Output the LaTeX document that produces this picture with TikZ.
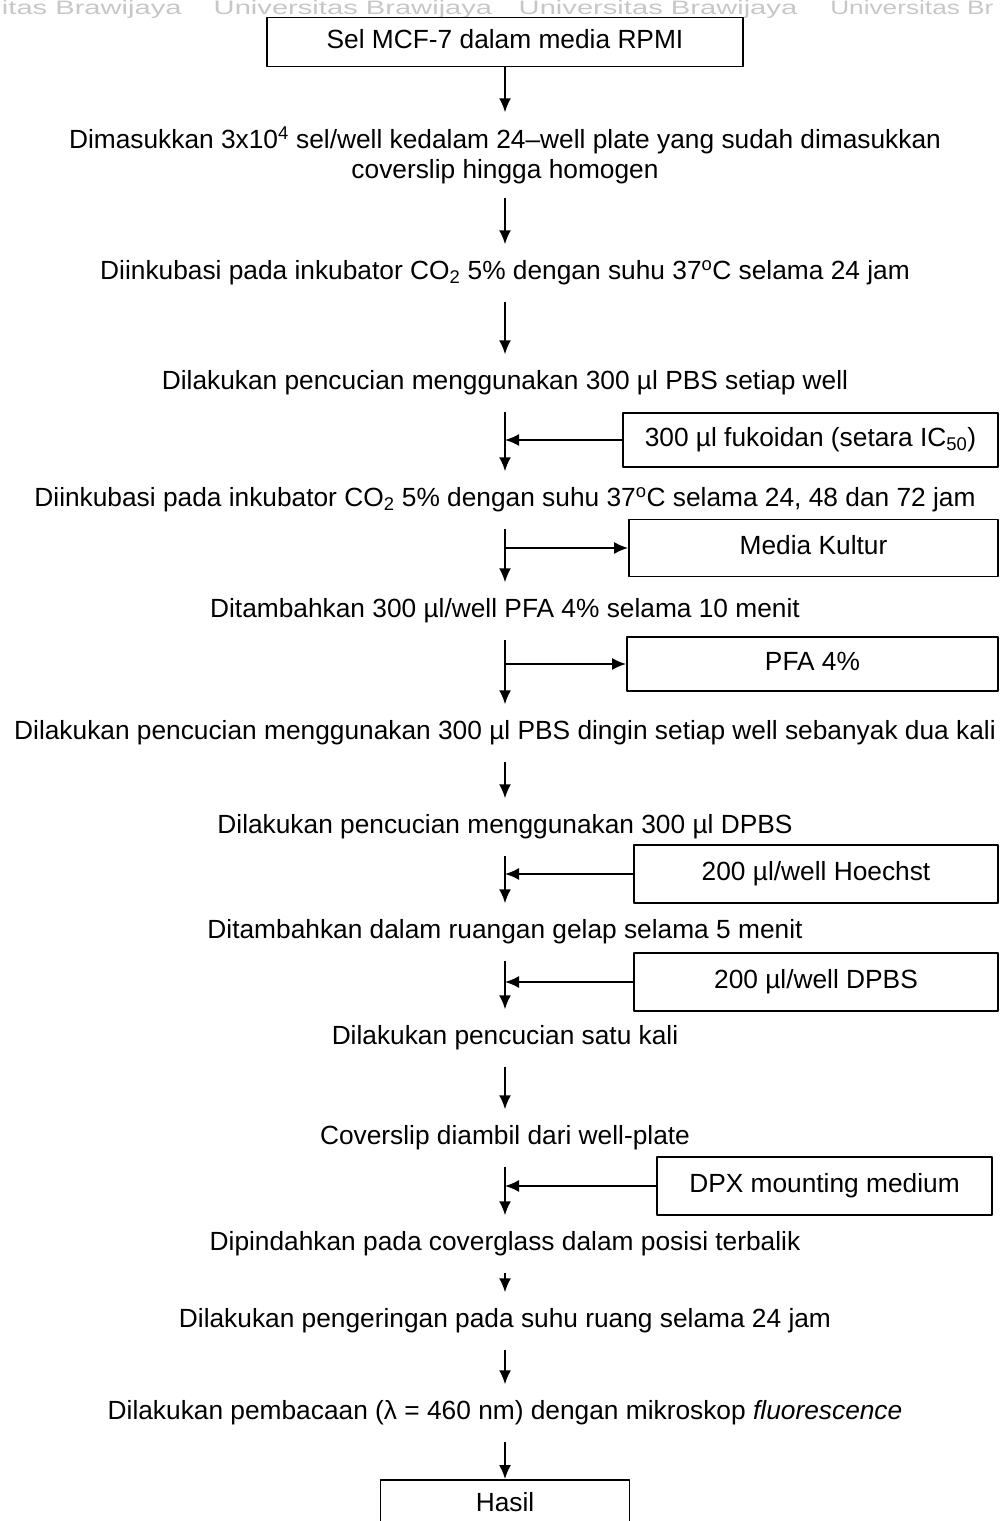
\documentclass[tikz,border=0pt]{standalone}
\usepackage{fontspec}
\setmainfont{Liberation Sans}
\usetikzlibrary{arrows.meta}
\tikzset{
  stage/.style={inner xsep=0bp,inner ysep=16bp,text height=19bp,text depth=6bp},
  stagebox/.style={draw,line width=1.8bp,inner sep=0bp,text height=19bp,text depth=6bp},
  wmark/.style={text=black!22,font=\fontsize{19.5}{22}\selectfont,inner sep=0bp,xscale=1.5,transform shape}
}
\begin{document}
\begin{tikzpicture}[>={Latex[length=14bp,width=12bp]},line join=bevel,every node/.style={font=\fontsize{26.4}{30}\selectfont}]
\useasboundingbox (0bp,0bp) rectangle (1001bp,1521bp);
%%
\node (mark_0) at (182bp,1506.5bp) [wmark,anchor=base east] {itas Brawijaya};
  \node (mark_1) at (353bp,1506.5bp) [wmark,anchor=base] {Universitas Brawijaya};
  \node (mark_2) at (658bp,1506.5bp) [wmark,anchor=base] {Universitas Brawijaya};
  \node (mark_3) at (830bp,1506.5bp) [wmark,xscale=0.9,anchor=base west] {Universitas Br};
%%
\node (step_0) at (505bp,1479bp) [stagebox,minimum width=476bp,minimum height=49bp] {Sel MCF-7 dalam media RPMI};
  \node (step_1) at (505bp,1366bp) [align=center,inner xsep=0bp,inner ysep=14bp] {Dimasukkan 3x10\textsuperscript{4} sel/well kedalam 24–well plate yang sudah dimasukkan\\coverslip hingga homogen};
  \node (step_2) at (505bp,1248bp) [stage] {Diinkubasi pada inkubator CO\textsubscript{2} 5\% dengan suhu 37\textsuperscript{o}C selama 24 jam};
  \node (step_3) at (505bp,1138bp) [stage] {Dilakukan pencucian menggunakan 300 µl PBS setiap well};
  \node (step_4) at (505bp,1021bp) [stage] {Diinkubasi pada inkubator CO\textsubscript{2} 5\% dengan suhu 37\textsuperscript{o}C selama 24, 48 dan 72 jam};
  \node (step_5) at (505bp,910bp) [stage] {Ditambahkan 300 µl/well PFA 4\% selama 10 menit};
  \node (step_6) at (505bp,788bp) [stage] {Dilakukan pencucian menggunakan 300 µl PBS dingin setiap well sebanyak dua kali};
  \node (step_7) at (505bp,694bp) [stage] {Dilakukan pencucian menggunakan 300 µl DPBS};
  \node (step_8) at (505bp,589bp) [stage] {Ditambahkan dalam ruangan gelap selama 5 menit};
  \node (step_9) at (505bp,483bp) [stage] {Dilakukan pencucian satu kali};
  \node (step_10) at (505bp,383bp) [stage] {Coverslip diambil dari well-plate};
  \node (step_11) at (505bp,277bp) [stage] {Dipindahkan pada coverglass dalam posisi terbalik};
  \node (step_12) at (505bp,200bp) [stage] {Dilakukan pengeringan pada suhu ruang selama 24 jam};
  \node (step_13) at (505bp,108bp) [stage] {Dilakukan pembacaan (λ = 460 nm) dengan mikroskop \textit{fluorescence}};
  \node (step_14) at (505bp,16bp) [stagebox,minimum width=249bp,minimum height=50bp] {Hasil};
%%
\node (side_0) at (810.5bp,1081bp) [stagebox,minimum width=375bp,minimum height=54bp] {300 µl fukoidan (setara IC\textsubscript{50})};
  \node (side_1) at (813.5bp,973bp) [stagebox,minimum width=369bp,minimum height=57bp] {Media Kultur};
  \node (side_2) at (812.5bp,857bp) [stagebox,minimum width=371bp,minimum height=54bp] {PFA 4\%};
  \node (side_3) at (816bp,647bp) [stagebox,minimum width=364bp,minimum height=58bp] {200 µl/well Hoechst};
  \node (side_4) at (816bp,539bp) [stagebox,minimum width=364bp,minimum height=58bp] {200 µl/well DPBS};
  \node (side_5) at (824.5bp,335bp) [stagebox,minimum width=335bp,minimum height=58bp] {DPX mounting medium};
%
\foreach \a/\b in {0/1,1/2,2/3,3/4,4/5,5/6,6/7,7/8,8/9,9/10,10/11,11/12,12/13,13/14}
  \draw [black,line width=1.8bp,->] (step_\a) -- (step_\b);
  \draw [black,line width=1.8bp,->] (side_0) -- (side_0 -| step_3);
  \draw [black,line width=1.8bp,->] (side_1 -| step_4) -- (side_1);
  \draw [black,line width=1.8bp,->] (side_2 -| step_5) -- (side_2);
  \draw [black,line width=1.8bp,->] (side_3) -- (side_3 -| step_7);
  \draw [black,line width=1.8bp,->] (side_4) -- (side_4 -| step_8);
  \draw [black,line width=1.8bp,->] (side_5) -- (side_5 -| step_10);
%
\end{tikzpicture}
\end{document}
